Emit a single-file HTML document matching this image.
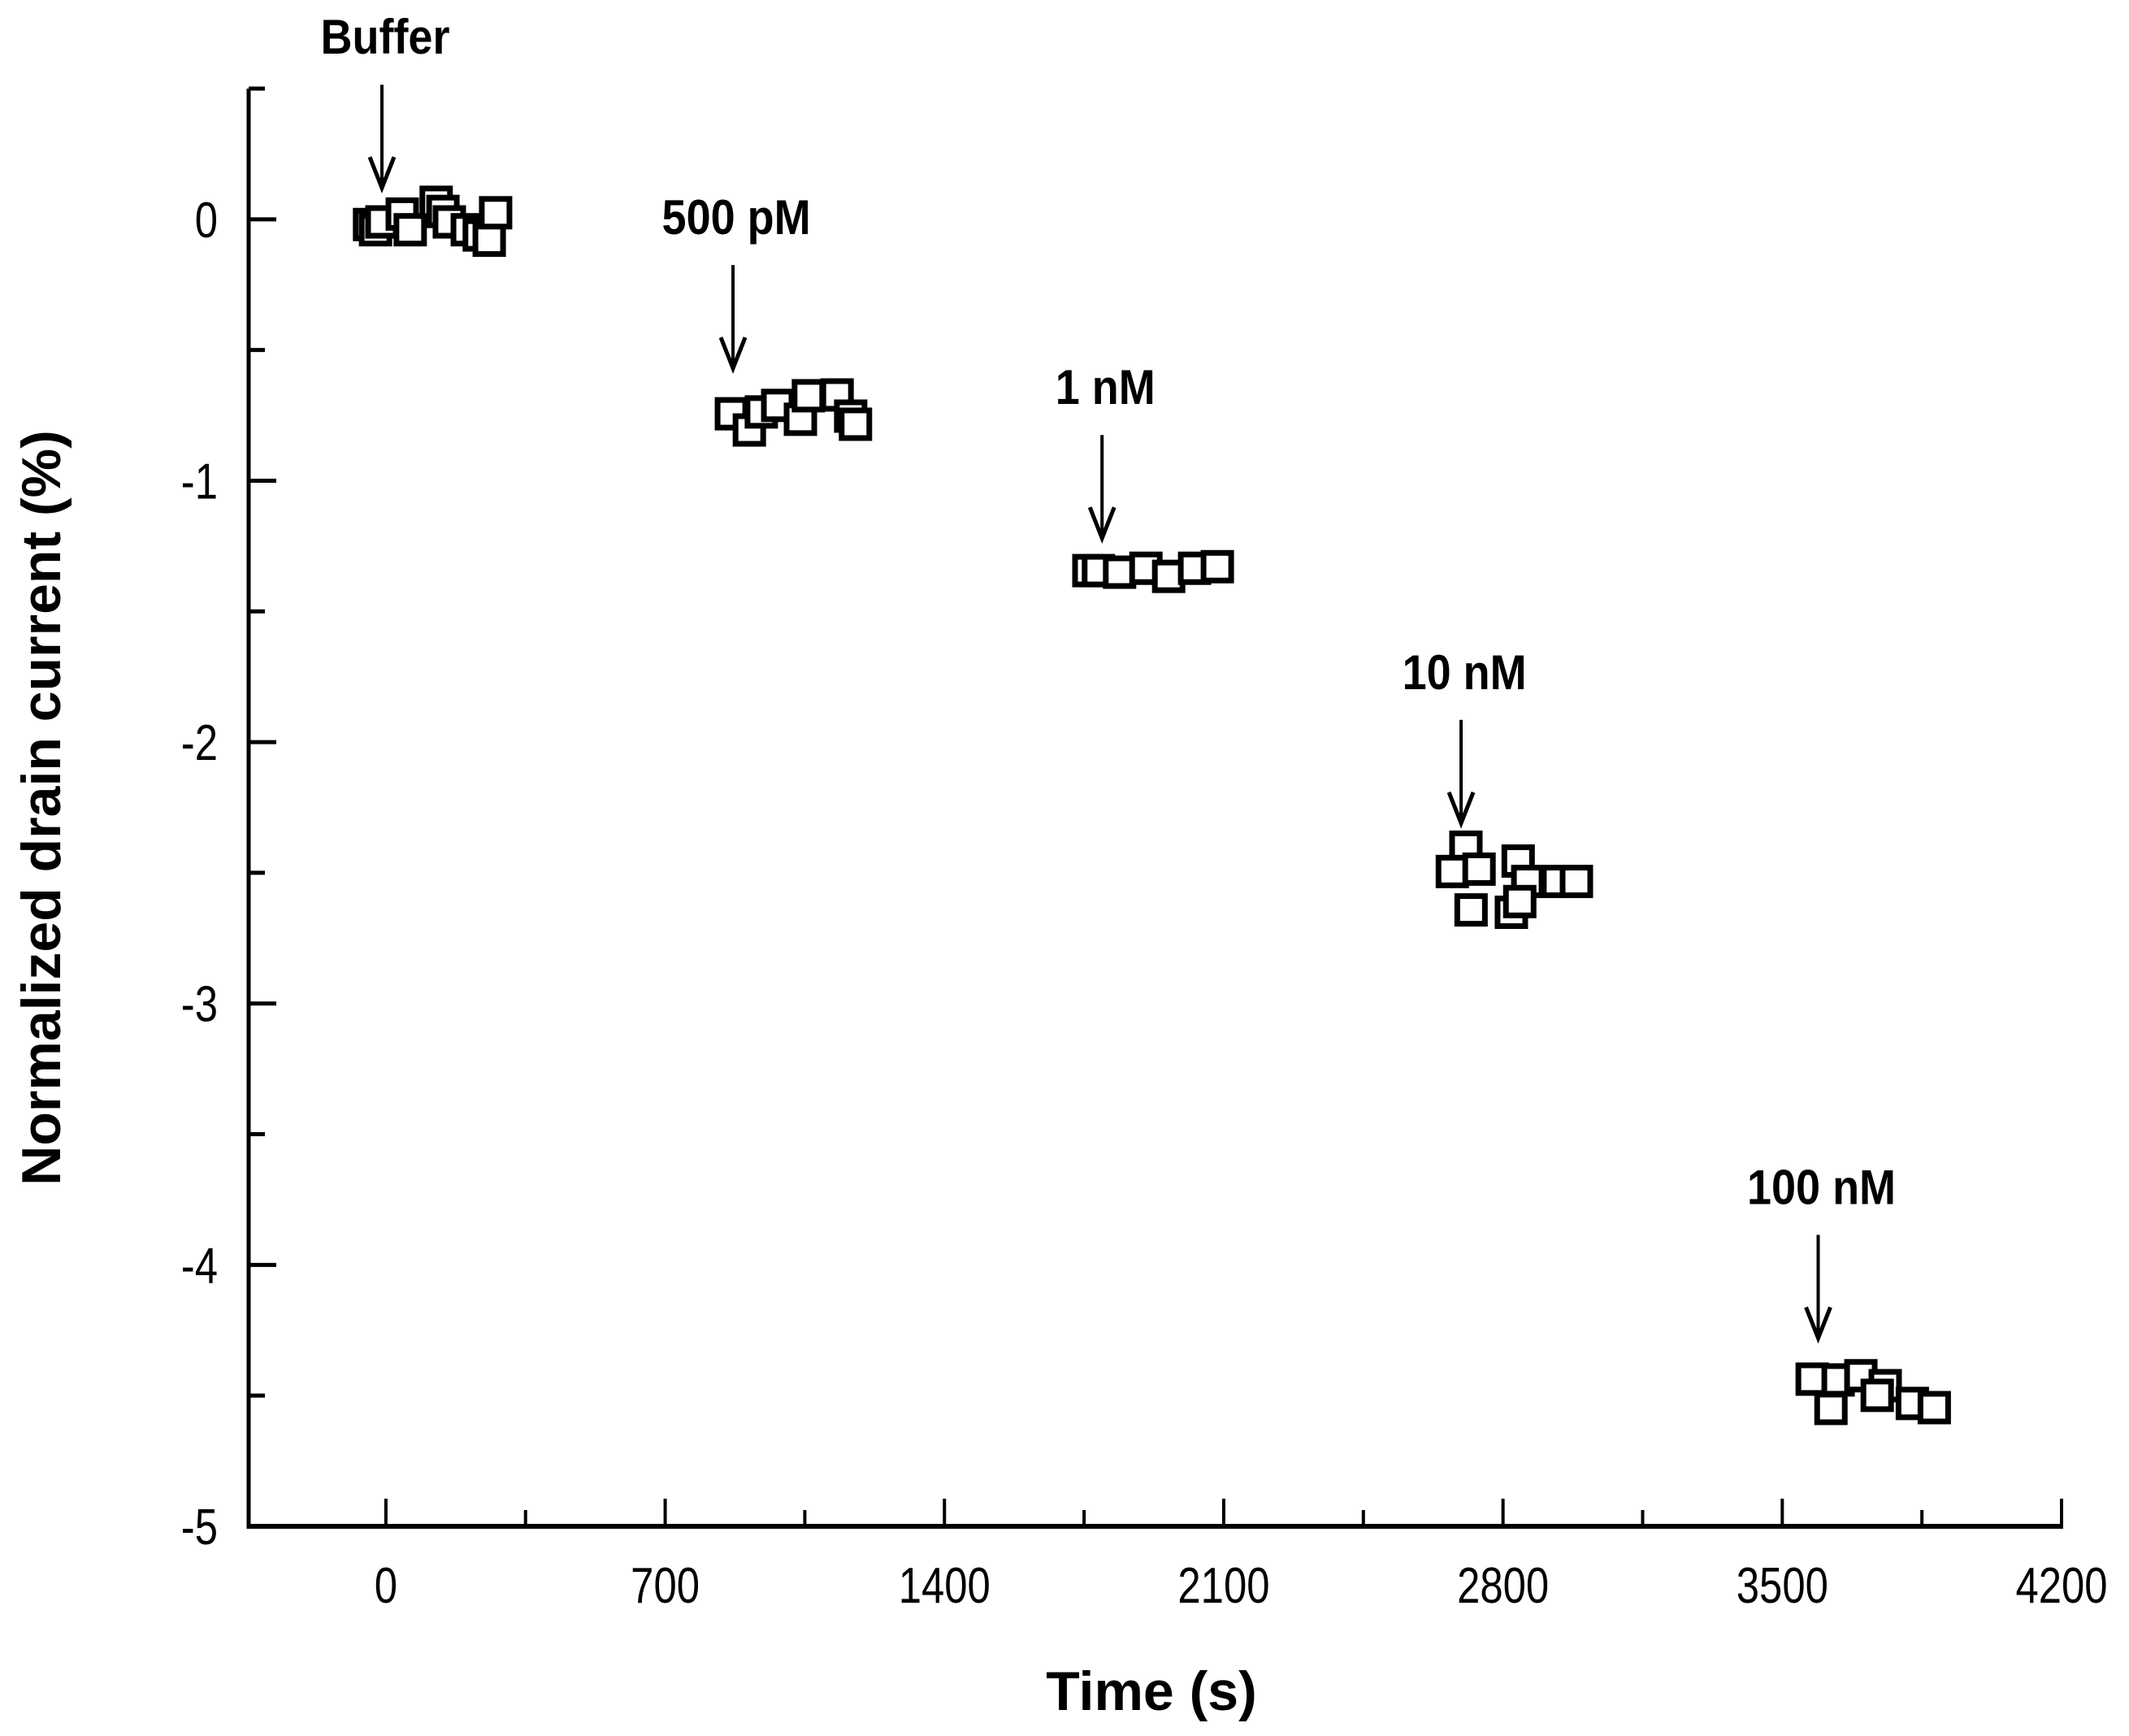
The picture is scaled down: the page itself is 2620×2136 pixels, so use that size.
<!DOCTYPE html>
<html><head><meta charset="utf-8"><style>
html,body{margin:0;padding:0;background:#fff;}
svg{display:block;}
text{font-family:"Liberation Sans",Arial,sans-serif;fill:#000;}
</style></head><body>
<svg id="chart" width="2620" height="2136" viewBox="0 0 2620 2136" xmlns="http://www.w3.org/2000/svg">
<g id="axes"></g>
<g id="marks"></g>
<g id="notes"></g>
<text x="1417" y="2104" font-size="68" font-weight="bold" text-anchor="middle">Time (s)</text>
<text transform="translate(74,994) rotate(-90)" font-size="68" font-weight="bold" text-anchor="middle">Normalized drain current (%)</text>
</svg>
<script>
const xTicks=[0,700,1400,2100,2800,3500,4200];
const yTicks=[0,-1,-2,-3,-4,-5];
const times=[-41,-26,-10,41,61,126,143,159,204,234,259,275,
866,911,941,982,1039,1059,1131,1165,1177,
1762,1786,1839,1905,1962,2027,2084,
2707,2673,2740,2720,2838,2821,2862,2842,2937,2984,
3575,3622,3640,3697,3758,3738,3826,3881];
const values=[-0.02,-0.04,-0.01,0.02,-0.04,0.065,0.03,-0.01,-0.04,-0.06,-0.08,0.025,
-0.744,-0.806,-0.737,-0.712,-0.765,-0.675,-0.672,-0.753,-0.784,
-1.344,-1.344,-1.35,-1.335,-1.366,-1.335,-1.329,
-2.402,-2.495,-2.486,-2.642,-2.455,-2.651,-2.533,-2.61,-2.533,-2.533,
-4.437,-4.549,-4.44,-4.424,-4.462,-4.499,-4.53,-4.546];
const noteLabels=["Buffer","500 pM","1 nM","10 nM","100 nM"];
const noteTimes=[-10,870,1795,2695,3590];
const noteValues=[0.12,-0.57,-1.22,-2.31,-4.28];

const X0=306,X1=2537,Y0=109,Y1=1878;
const xMin=-344,xMax=4200,yMin=-5,yMax=0.5;
const sx=t=>X0+(t-xMin)/(xMax-xMin)*(X1-X0);
const sy=v=>Y1-(v-yMin)/(yMax-yMin)*(Y1-Y0);
const NS="http://www.w3.org/2000/svg";
function mk(tag,attrs,parent){const e=document.createElementNS(NS,tag);for(const k in attrs)e.setAttribute(k,attrs[k]);parent.appendChild(e);return e;}
const axes=document.getElementById('axes'),marks=document.getElementById('marks'),notes=document.getElementById('notes');

let l=mk('line',{x1:X0,y1:Y0,x2:X0,y2:Y1+3,stroke:'#000','stroke-width':5},axes);


l=mk('line',{x1:X0-2,y1:Y1,x2:X1+2,y2:Y1,stroke:'#000','stroke-width':6},axes);


mk('line',{x1:X0,y1:Y0,x2:X0+18,y2:Y0,stroke:'#000','stroke-width':5},axes);

for(let t=0;t<=4200;t+=350){
  const major=xTicks.includes(t);
  const tk=mk('line',{x1:sx(t),y1:Y1,x2:sx(t),y2:Y1-(major?34:20),stroke:'#000','stroke-width':4},axes);
  
  
}
xTicks.forEach(t=>{
  const tx=mk('text',{transform:`translate(${sx(t)},1972) scale(0.82,1)`,'font-size':62,'text-anchor':'middle'},axes);
  tx.textContent=t;
  
  
});
for(let v=0.5;v>=-5;v-=0.5){
  const major=Math.abs(v-Math.round(v))<1e-6;
  const tk=mk('line',{x1:X0,y1:sy(v),x2:X0+(major?34:20),y2:sy(v),stroke:'#000','stroke-width':5},axes);
  
  
}
yTicks.forEach(v=>{
  const tx=mk('text',{transform:`translate(268,${sy(v)+22}) scale(0.82,1)`,'font-size':62,'text-anchor':'end'},axes);
  tx.textContent=v;
  
  
});
times.forEach((t,i)=>{
  const r=mk('rect',{x:sx(t)-17,y:sy(values[i])-17,width:34,height:34,fill:'#fff',stroke:'#000','stroke-width':7},marks);
  
  
});
noteLabels.forEach((s,i)=>{
  const x=sx(noteTimes[i]),ya=sy(noteValues[i]);
  const g=mk('g',{},notes);
  
  
  mk('line',{x1:x,y1:ya-127,x2:x,y2:ya,stroke:'#000','stroke-width':4},g);
  mk('polyline',{points:`${x-15},${ya-38} ${x},${ya} ${x+15},${ya-38}`,fill:'none',stroke:'#000','stroke-width':5},g);
  const tx=mk('text',{transform:`translate(${x+4},${ya-165}) scale(0.9,1)`,'font-size':60,'font-weight':'bold','text-anchor':'middle'},g);
  tx.textContent=s;
});
</script>
</body></html>
